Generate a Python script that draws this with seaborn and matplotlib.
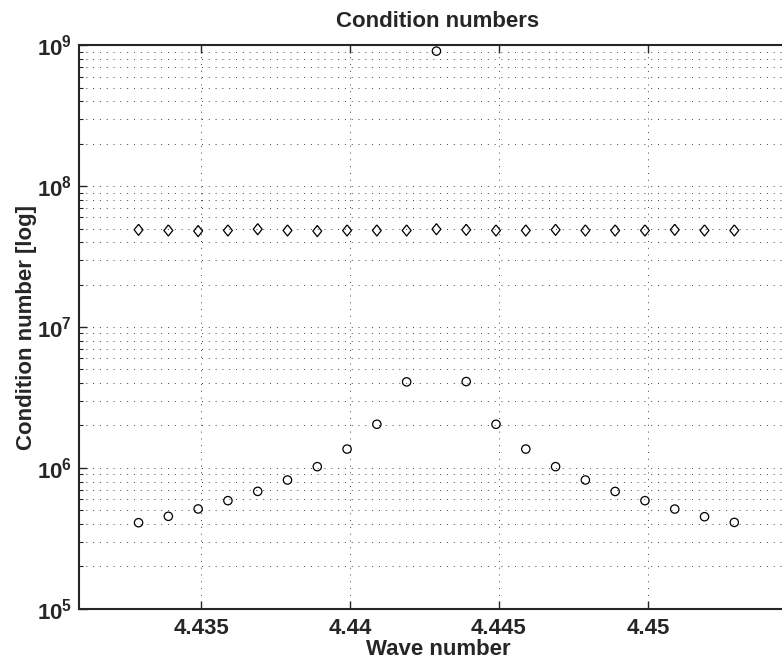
import numpy as np
import pandas as pd
import seaborn as sns
import matplotlib.pyplot as plt
from matplotlib.ticker import FixedLocator, LogLocator, FuncFormatter, NullFormatter

# Values
wave_number = [4.4329, 4.4339, 4.4349, 4.4359, 4.4369, 4.4379, 4.4389, 4.4399, 4.4409, 4.4419, 4.4429,
               4.4439, 4.4449, 4.4459, 4.4469, 4.4479, 4.4489, 4.4499, 4.4509, 4.4519, 4.4529]
cond_circle = [4.08e5, 4.53e5, 5.11e5, 5.85e5, 6.81e5, 8.2e5, 1.02e6, 1.36e6, 2.04e6, 4.08e6, 9.1e8,
               4.1e6, 2.04e6, 1.36e6, 1.02e6, 8.2e5, 6.8e5, 5.85e5, 5.1e5, 4.5e5, 4.1e5]
cond_diamond = [4.9e7, 4.85e7, 4.8e7, 4.85e7, 4.95e7, 4.85e7, 4.8e7, 4.85e7, 4.85e7, 4.85e7, 4.95e7,
                4.9e7, 4.85e7, 4.85e7, 4.9e7, 4.85e7, 4.85e7, 4.85e7, 4.9e7, 4.85e7, 4.85e7]
x_ticks = [4.435, 4.44, 4.445, 4.45]
x_tick_labels = ['4.435', '4.44', '4.445', '4.45']

sns.set_style('ticks')
plt.rcParams['font.family'] = ['Liberation Sans', 'DejaVu Sans']
plt.rcParams['font.weight'] = 'bold'
plt.rcParams['mathtext.fontset'] = 'custom'
plt.rcParams['mathtext.bf'] = 'Liberation Sans:bold'
plt.rcParams['mathtext.rm'] = 'Liberation Sans:bold'

df = pd.DataFrame({'wave': wave_number, 'circle': cond_circle, 'diamond': cond_diamond})

fig = plt.figure(figsize=(7.82, 6.62), dpi=100)
ax = fig.add_axes([0.101, 0.0805, 0.918, 0.851])

diamond = [(0, 1), (0.8, 0), (0, -1), (-0.8, 0), (0, 1)]
sns.scatterplot(data=df, x='wave', y='diamond', marker=diamond, s=64, facecolor='none',
                edgecolor='black', linewidth=0.9, ax=ax, zorder=3)
sns.scatterplot(data=df, x='wave', y='circle', marker='o', s=36, facecolor='none',
                edgecolor='black', linewidth=0.9, ax=ax, zorder=3)

ax.set_yscale('log')
ax.set_ylim(1e5, 1e9)
ax.set_xlim(4.4309, 4.455)

ax.xaxis.set_major_locator(FixedLocator(x_ticks))
ax.set_xticklabels(x_tick_labels)
ax.yaxis.set_major_locator(LogLocator(base=10, numticks=10))
ax.yaxis.set_minor_locator(LogLocator(base=10, subs=np.arange(2, 10), numticks=20))
ax.yaxis.set_minor_formatter(NullFormatter())
ax.yaxis.set_major_formatter(FuncFormatter(lambda v, p: r'$\mathbf{10^{%d}}$' % round(np.log10(v))))

grid_style = dict(color='black', linestyle=(0, (1, 6)), linewidth=0.7, alpha=0.75)
ax.grid(True, which='major', axis='both', **grid_style)
ax.grid(True, which='minor', axis='y', **grid_style)

ax.tick_params(axis='both', which='both', direction='in', top=True, right=False, labelsize=16)
ax.tick_params(axis='both', which='major', length=6, width=1, pad=7)
ax.tick_params(axis='y', which='major', pad=5)
ax.tick_params(axis='y', which='minor', length=3, width=0.8)
for side in ['left', 'bottom', 'top']:
    ax.spines[side].set_linewidth(1.5)
ax.spines['right'].set_visible(False)

ax.set_title('Condition numbers', fontsize=16, fontweight='bold', pad=13)
ax.set_xlabel('Wave number', fontsize=16, fontweight='bold', labelpad=0)
ax.set_ylabel('Condition number [log]', fontsize=16, fontweight='bold', labelpad=0)

fig.savefig('out.png', dpi=100)
plt.close(fig)
